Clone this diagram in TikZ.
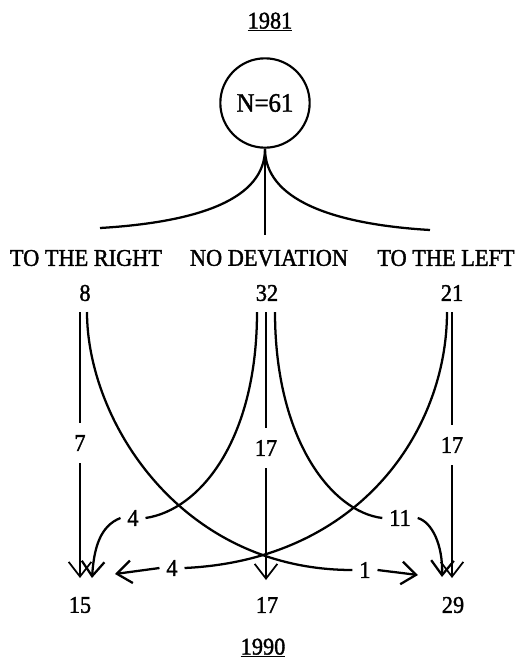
\documentclass[tikz,border=0pt]{standalone}
\usepackage{fontspec}
\setmainfont{Liberation Serif}[FakeStretch=0.93,FakeBold=1.5]
\usetikzlibrary{arrows.meta,calc}
\begin{document}
\begin{tikzpicture}[x=0.75pt,y=-0.75pt,
  lbl/.style={font=\fontsize{18}{21}\selectfont, inner sep=0pt},
  mid/.style={lbl, inner xsep=5pt, inner ysep=9pt},
  curve/.style={line width=1.7pt},
  straight/.style={line width=1.3pt},
  tip/.style={-{Straight Barb[length=11pt,width=17pt]}},
]
\useasboundingbox (0,0) rectangle (521,662);
% titles
\node[lbl] (y1981) at (270,22) {\underline{1981}};
\node[lbl] (y1990) at (263,648) {\underline{1990}};
% root
\node[lbl, font=\fontsize{20}{24}\selectfont, draw, circle, line width=1.6pt, minimum size=67pt] (root) at (265,103) {N=61};
\coordinate (bl) at (100,228);
\coordinate (bm) at (265,235);
\coordinate (br) at (430,230);
\draw[curve] (root.south) .. controls ($(root.south)+(0,50)$) and (200,222) .. (bl);
\draw[curve] (root.south) -- (bm);
\draw[curve] (root.south) .. controls ($(root.south)+(0,50)$) and (330,224) .. (br);
% category labels
\node[lbl] (right) at (86,258) {TO THE RIGHT};
\node[lbl] (nodev) at (269,258) {NO DEVIATION};
\node[lbl] (left) at (446,258) {TO THE LEFT};
\node[lbl] (c8) at (85,293) {8};
\node[lbl] (c32) at (267,293) {32};
\node[lbl] (c21) at (452,293) {21};
% flow labels
\node[mid] (e7) at (80,443) {7};
\node[mid] (e17a) at (266,448) {17};
\node[mid] (e17b) at (452,445) {17};
\node[mid] (e4a) at (133,518) {4};
\node[mid] (e11) at (400,518) {11};
\node[mid] (e4b) at (172,568) {4};
\node[mid] (e1) at (365,570) {1};
% 1990 totals
\node[lbl] (b15) at (80,605) {15};
\node[lbl] (b17) at (267,605) {17};
\node[lbl] (b29) at (453,605) {29};
% straight flows
\draw[straight] ($(c8)+(-5,19)$) -- (e7.north);
\draw[straight,tip] (e7.south) -- ($(b15)+(0,-27)$);
\draw[straight] ($(c32)+(-1,19)$) -- (e17a.north);
\draw[straight,tip] (e17a.south) -- ($(b17)+(-1,-25)$);
\draw[straight] ($(c21)+(0,19)$) -- (e17b.north);
\draw[straight,tip] (e17b.south) -- ($(b29)+(-1,-27)$);
% crossing flows
\draw[curve] ($(c8)+(2,19)$) .. controls (87,420) and (180,570) .. (e1.west);
\draw[curve] ($(c32)+(-10,19)$) .. controls (257,440) and (200,510) .. (e4a.east);
\draw[curve] ($(c32)+(8,19)$) .. controls (275,440) and (332,512) .. (e11.west);
\draw[curve] ($(c21)+(-5,19)$) .. controls (447,430) and (360,560) .. (e4b.east);
% final arrows
\draw[curve,tip] (e4a.west) .. controls (100,526) and (94,548) .. ($(b15)+(12,-27)$);
\draw[curve,tip] (e4b.west) -- ($(b15)+(35,-31)$);
\draw[curve,tip] (e1.east) -- ($(b29)+(-35,-30)$);
\draw[curve,tip] (e11.east) .. controls (432,522) and (443,545) .. ($(b29)+(-11,-28)$);
\end{tikzpicture}
\end{document}
